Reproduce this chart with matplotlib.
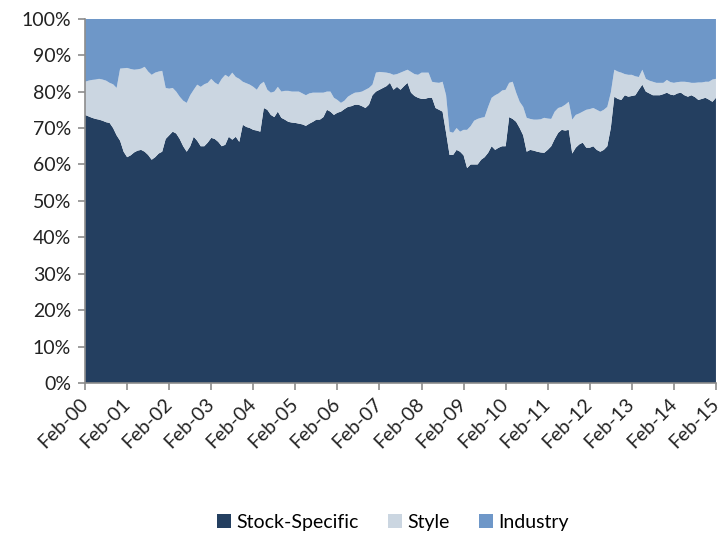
import numpy as np
import matplotlib
matplotlib.use('Agg')
import matplotlib.pyplot as plt

# share of risk by source, monthly from Feb-00 to Feb-15 (%)
stock_specific = [
    73.6, 73.2, 72.8, 72.5, 72.3, 72.0, 71.6, 71.4, 70.0, 68.0, 66.5, 63.5,
    62.0, 62.5, 63.3, 63.8, 64.0, 63.5, 62.6, 61.3, 62.0, 63.0, 63.5, 67.0,
    68.0, 69.0, 68.5, 67.0, 65.0, 63.5, 65.0, 67.6, 66.5, 65.0, 65.0, 66.0,
    67.3, 67.0, 66.2, 65.0, 65.4, 67.6, 66.8, 67.6, 66.2, 70.9, 70.3, 70.0,
    69.5, 69.3, 69.0, 75.5, 75.0, 73.6, 73.0, 74.5, 72.8, 72.3, 71.7, 71.5,
    71.4, 71.2, 71.0, 70.6, 71.2, 71.7, 72.3, 72.3, 73.0, 75.0, 74.5, 73.6,
    74.2, 74.5, 75.2, 75.8, 76.0, 76.4, 76.4, 76.0, 75.5, 76.4, 79.0, 80.0,
    80.5, 81.0, 81.5, 82.4, 80.5, 81.3, 80.5, 81.5, 82.4, 79.7, 78.8, 78.3,
    78.0, 78.0, 78.3, 78.3, 75.5, 75.0, 74.5, 68.7, 62.6, 62.6, 64.0, 63.5,
    62.5, 59.0, 60.0, 60.0, 60.0, 61.3, 62.0, 63.2, 65.0, 64.0, 64.6, 65.0,
    65.0, 73.0, 72.5, 71.7, 70.0, 68.0, 63.5, 64.0, 63.8, 63.5, 63.3, 63.2,
    64.0, 65.0, 67.0, 68.7, 69.5, 69.3, 69.5, 63.0, 64.6, 65.5, 66.0, 64.6,
    64.6, 65.0, 64.0, 63.5, 64.0, 65.0, 70.0, 78.6, 78.0, 77.7, 79.0, 78.6,
    78.8, 79.0, 80.5, 81.9, 80.0, 79.5, 79.0, 79.0, 79.0, 79.3, 79.7, 79.2,
    79.0, 79.5, 79.7, 79.0, 78.6, 79.0, 78.5, 77.7, 78.0, 78.3, 77.8, 77.2,
    78.3,
]
style = [
    9.1, 9.8, 10.4, 10.8, 11.2, 11.3, 11.4, 11.0, 12.0, 13.0, 19.8, 22.9,
    24.5, 23.7, 22.7, 22.3, 22.3, 23.3, 22.9, 23.3, 23.2, 22.5, 22.2, 14.0,
    12.8, 12.0, 11.5, 11.6, 12.5, 13.4, 14.0, 12.9, 15.4, 16.3, 17.0, 16.4,
    16.2, 15.5, 15.7, 18.5, 19.2, 16.4, 18.4, 16.4, 17.3, 11.8, 12.0, 11.9,
    11.8, 11.2, 13.0, 7.2, 5.5, 6.1, 7.0, 6.8, 7.2, 7.9, 8.5, 8.5,
    8.6, 8.8, 8.5, 8.4, 8.3, 8.0, 7.4, 7.4, 6.7, 5.0, 5.5, 4.7,
    3.5, 2.4, 2.3, 2.8, 3.2, 3.3, 3.4, 4.0, 5.0, 4.6, 2.9, 5.2,
    4.9, 4.3, 3.7, 2.6, 4.1, 3.5, 4.7, 4.1, 3.6, 5.7, 6.0, 6.3,
    7.2, 7.2, 6.9, 4.4, 7.0, 7.4, 8.2, 10.3, 6.4, 6.1, 6.0, 5.5,
    7.0, 10.5, 10.5, 12.0, 12.5, 11.5, 11.0, 12.6, 13.3, 15.0, 14.9, 15.3,
    15.5, 9.4, 10.2, 8.0, 7.2, 7.8, 9.3, 8.5, 8.5, 8.8, 9.1, 9.6,
    8.6, 7.5, 7.5, 6.8, 6.3, 7.1, 7.7, 9.3, 9.0, 8.5, 8.5, 10.4,
    10.6, 10.5, 11.0, 11.0, 11.0, 10.8, 9.7, 7.4, 7.5, 7.5, 5.8, 6.0,
    5.8, 5.2, 3.5, 4.1, 3.5, 3.5, 3.7, 3.4, 3.4, 3.1, 3.5, 3.4,
    3.4, 3.1, 3.0, 3.7, 4.0, 3.4, 3.9, 4.8, 4.5, 4.4, 4.9, 6.1,
    5.2,
]
# the three sources add up to 100%
industry = [100 - a - b for a, b in zip(stock_specific, style)]

year_labels = ['Feb-%02d' % y for y in range(0, 16)]
labels = ['Stock-Specific', 'Style', 'Industry']
colors = ['#243F60', '#CBD6E1', '#6E97C8']

plt.rcParams['font.family'] = ['Lato', 'DejaVu Sans']

x = np.arange(len(stock_specific))

fig = plt.figure(figsize=(7.21, 5.35), dpi=100)
ax = fig.add_axes([0.118, 0.284, 0.875, 0.681])
ax.stackplot(x, stock_specific, style, industry, colors=colors, labels=labels, linewidth=0)

ax.set_xlim(0, len(x) - 1)
ax.set_ylim(0, 100)
ax.set_yticks(range(0, 101, 10))
ax.set_yticklabels(['%d%%' % v for v in range(0, 101, 10)])
ax.set_xticks(range(0, len(x), 12))
ax.set_xticklabels(year_labels, rotation=45, ha='right', va='center', rotation_mode='anchor')

for side in ['top', 'right']:
    ax.spines[side].set_visible(False)
for side in ['left', 'bottom']:
    ax.spines[side].set_color('#8C8C8C')
    ax.spines[side].set_linewidth(1.2)
ax.tick_params(axis='both', colors='#8C8C8C', length=5, width=1.2, labelsize=14, labelcolor='#222222')
ax.tick_params(axis='x', pad=8)
ax.tick_params(axis='y', pad=5)

handles, _ = ax.get_legend_handles_labels()
fig.legend(handles, labels, loc='center', bbox_to_anchor=(0.545, 0.024), ncol=3, frameon=False,
           fontsize=14, handlelength=0.7, handleheight=0.7, handletextpad=0.3, columnspacing=1.5)

fig.savefig('out.png', dpi=100)
